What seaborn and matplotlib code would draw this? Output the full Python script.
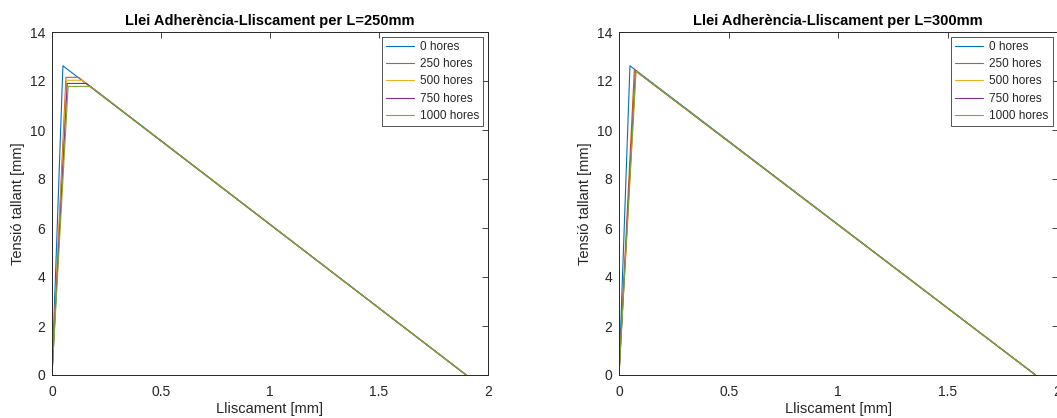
import numpy as np
import pandas as pd
import matplotlib
matplotlib.use("Agg")
import matplotlib.pyplot as plt
import seaborn as sns

# ---- data ----
series = ["0 hores", "250 hores", "500 hores", "750 hores", "1000 hores"]
colors = ["#0072BD", "#D95319", "#EDB120", "#7E2F8E", "#77AC30"]

# L = 250 mm : slip [mm] / shear stress
x250_0 = [0.0, 0.05, 1.9]
y250_0 = [0.0, 12.62, 0.0]
x250_250 = [0.0, 0.064, 0.121, 1.9]
y250_250 = [0.0, 12.15, 12.15, 0.0]
x250_500 = [0.0, 0.067, 0.139, 1.9]
y250_500 = [0.0, 12.03, 12.03, 0.0]
x250_750 = [0.0, 0.070, 0.158, 1.9]
y250_750 = [0.0, 11.90, 11.90, 0.0]
x250_1000 = [0.0, 0.074, 0.176, 1.9]
y250_1000 = [0.0, 11.78, 11.78, 0.0]

# L = 300 mm
x300_0 = [0.0, 0.05, 1.9]
y300_0 = [0.0, 12.62, 0.0]
x300_250 = [0.0, 0.070, 1.9]
y300_250 = [0.0, 12.45, 0.0]
x300_500 = [0.0, 0.078, 1.9]
y300_500 = [0.0, 12.40, 0.0]
x300_750 = [0.0, 0.075, 1.9]
y300_750 = [0.0, 12.42, 0.0]
x300_1000 = [0.0, 0.077, 1.9]
y300_1000 = [0.0, 12.41, 0.0]

titles = ["Llei Adherència-Lliscament per L=250mm",
          "Llei Adherència-Lliscament per L=300mm"]
xlabel = "Lliscament [mm]"
ylabel = "Tensió tallant [mm]"
xticks = [0, 0.5, 1, 1.5, 2]
xticklabels = ["0", "0.5", "1", "1.5", "2"]
yticks = [0, 2, 4, 6, 8, 10, 12, 14]


def build(xs, ys):
    rows = []
    for name, xv, yv in zip(series, xs, ys):
        for i, (a, b) in enumerate(zip(xv, yv)):
            rows.append({"serie": name, "order": i, "x": a, "y": b})
    return pd.DataFrame(rows)


df250 = build([x250_0, x250_250, x250_500, x250_750, x250_1000],
              [y250_0, y250_250, y250_500, y250_750, y250_1000])
df300 = build([x300_0, x300_250, x300_500, x300_750, x300_1000],
              [y300_0, y300_250, y300_500, y300_750, y300_1000])

sns.set_theme(style="white")
plt.rcParams["font.family"] = ["Liberation Sans", "DejaVu Sans"]

W, H = 1057, 418
fig = plt.figure(figsize=(W / 100, H / 100), dpi=100)
ax1 = fig.add_axes([52 / W, 1 - 375 / H, (488 - 52) / W, (375 - 32) / H])
ax2 = fig.add_axes([619 / W, 1 - 375 / H, (1057.5 - 619) / W, (375 - 32) / H])

axcol = "#262626"
for ax, df, title in [(ax1, df250, titles[0]), (ax2, df300, titles[1])]:
    sns.lineplot(data=df, x="x", y="y", hue="serie", hue_order=series,
                 palette=colors, sort=False, estimator=None, units="serie",
                 linewidth=0.8, ax=ax, legend=False)
    ax.set_xlim(0, 2)
    ax.set_ylim(0, 14)
    ax.set_xticks(xticks)
    ax.set_xticklabels(xticklabels)
    ax.set_yticks(yticks)
    ax.tick_params(direction="in", length=4, width=0.6, top=True, right=True,
                   colors=axcol, labelsize=10)
    ax.tick_params(axis="x", pad=7)
    ax.tick_params(axis="y", pad=5)
    for s in ax.spines.values():
        s.set_color(axcol)
        s.set_linewidth(0.7)
        s.set_visible(True)
    ax.set_title(title, fontsize=10.5, fontweight="bold", color="black", pad=5)
    ax.set_xlabel(xlabel, fontsize=10.5, color=axcol, labelpad=2)
    ax.set_ylabel(ylabel, fontsize=10.5, color=axcol, labelpad=3)
    handles = [plt.Line2D([], [], color=c, linewidth=0.8) for c in colors]
    leg = ax.legend(handles, series, loc="upper right", fontsize=8.5,
                    frameon=True, fancybox=False, edgecolor=axcol,
                    borderaxespad=0.4, handlelength=2.4, handletextpad=0.5,
                    labelspacing=0.45, borderpad=0.35)
    leg.get_frame().set_linewidth(0.7)

fig.savefig("out.png", dpi=100)
